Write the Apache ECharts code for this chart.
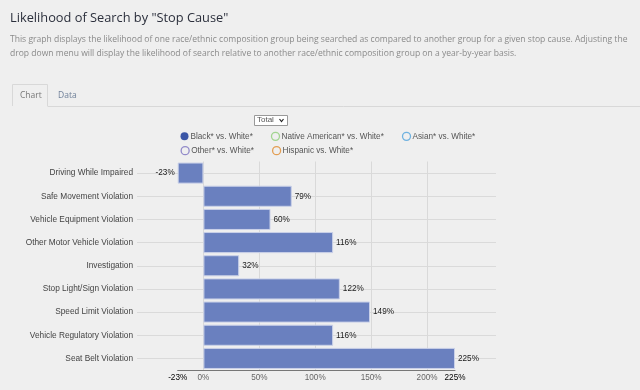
<!DOCTYPE html>
<html><head><meta charset="utf-8">
<script src="https://cdn.jsdelivr.net/npm/echarts@6/dist/echarts.min.js"></script>
<style>html,body{margin:0;padding:0;background:#efefef}#c{width:640px;height:390px}</style>
</head><body><div id="c"></div>
<script>
const categories = ['Driving While Impaired','Safe Movement Violation','Vehicle Equipment Violation','Other Motor Vehicle Violation','Investigation','Stop Light/Sign Violation','Speed Limit Violation','Vehicle Regulatory Violation','Seat Belt Violation'];
const values = [-23, 79, 60, 116, 32, 122, 149, 116, 225];
const legendRow1 = ['Black* vs. White*','Native American* vs. White*','Asian* vs. White*'];
const legendRow2 = ['Other* vs. White*','Hispanic vs. White*'];
const legendColors = {'Black* vs. White*':'#3b56a6','Native American* vs. White*':'#8fce78','Asian* vs. White*':'#4fa3dc','Other* vs. White*':'#7b70bf','Hispanic vs. White*':'#e0892c'};
const axisMin = -23, axisMax = 225;
const titleText = 'Likelihood of Search by "Stop Cause"';
const descLines = ['This graph displays the likelihood of one race/ethnic composition group being searched as compared to another group for a given stop cause. Adjusting the',
'drop down menu will display the likelihood of search relative to another race/ethnic composition group on a year-by-year basis.'];
const tabNames = ['Chart','Data'];
const dropdownText = 'Total';

const chart = echarts.init(document.getElementById('c'), null, {renderer:'canvas'});
const FONT = '"Liberation Sans", Arial, sans-serif';

function legendItem(name){
  const filled = name === 'Black* vs. White*';
  return {name, icon:'circle', itemStyle:{color: filled ? legendColors[name] : 'rgba(0,0,0,0)', borderColor: legendColors[name], borderWidth: filled ? 0 : 1.3}};
}
const allNames = legendRow1.concat(legendRow2);
const series = [{
  name: allNames[0], type:'bar', xAxisIndex:1, yAxisIndex:1,
  barCategoryGap:'9%',
  itemStyle:{color:'#6a80bf', borderColor:'#c9d0e8', borderWidth:1},
  label:{show:true, formatter:'{c}%', fontSize:8.2, fontFamily:FONT, color:'#1a1a1a', distance:3},
  data: values.map(v => ({value:v, label:{position: v < 0 ? 'left' : 'right'}}))
}];
allNames.slice(1).forEach(n => series.push({name:n, type:'scatter', xAxisIndex:1, yAxisIndex:1, data:[], itemStyle:{color:legendColors[n]}}));

const graphic = [
  {type:'text', left:10, top:12, style:{text:titleText, font:'12.8px "Open Sans"', fill:'#2b2f3c'}},
  {type:'text', left:10, top:35, style:{text:descLines[0], font:'8.55px "Open Sans"', fill:'#8a8a8a'}},
  {type:'text', left:10, top:49, style:{text:descLines[1], font:'8.55px "Open Sans"', fill:'#8a8a8a'}},
  {type:'polyline', shape:{points:[[12.5,106],[12.5,84.5],[47.5,84.5],[47.5,106]]}, style:{stroke:'#d8d8d8', fill:null, lineWidth:1}},
  {type:'line', shape:{x1:47.5,y1:106.5,x2:640,y2:106.5}, style:{stroke:'#d8d8d8', lineWidth:1}},
  {type:'text', left:20, top:91, style:{text:tabNames[0], font:'8.5px "Open Sans"', fill:'#777'}},
  {type:'text', left:58, top:91, style:{text:tabNames[1], font:'8.5px "Open Sans"', fill:'#6f8099'}},
  {type:'rect', shape:{x:254.5,y:115.5,width:33,height:10}, style:{fill:'#fff', stroke:'#999', lineWidth:1}},
  {type:'text', left:257, top:116, style:{text:dropdownText, font:'8px ' + FONT, fill:'#555'}},
  {type:'polyline', shape:{points:[[279.5,119],[281.5,121.5],[283.5,119]]}, style:{stroke:'#222', fill:null, lineWidth:1.2}}
];

const option = {
  backgroundColor:'#efefef',
  animation:false,
  graphic,
  legend:[
    {data: legendRow1.map(legendItem), left:180.5, top:131.7, itemWidth:8, itemHeight:8, itemGap:18, selectedMode:false,
     textStyle:{fontSize:8.2, fontFamily:FONT, color:'#555', padding:[0,0,0,-3]}, padding:0},
    {data: legendRow2.map(legendItem), left:180.5, top:146, itemWidth:8, itemHeight:8, itemGap:18, selectedMode:false,
     textStyle:{fontSize:8.2, fontFamily:FONT, color:'#555', padding:[0,0,0,-3]}, padding:0}
  ],
  grid:[
    {left:137, right:144, top:173.1, bottom:31.6},
    {left:177.7, right:185, top:161.5, bottom:20}
  ],
  xAxis:[
    {type:'value', gridIndex:0, min:0, max:1, show:false},
    {type:'value', gridIndex:1, min:axisMin, max:axisMax, position:'bottom',
     axisLine:{show:true, lineStyle:{color:'#777', width:1}},
     axisTick:{show:false},
     splitLine:{show:true, showMinLine:false, showMaxLine:false, lineStyle:{color:'#d9d9d9', width:1}},
     axisLabel:{showMinLabel:true, showMaxLabel:true, fontSize:8.2, fontFamily:FONT, color:'#666', margin:4,
       formatter: v => (v === axisMin || v === axisMax) ? '{b|' + v + '%}' : v + '%',
       rich:{b:{fontSize:8.2, fontFamily:FONT, color:'#000'}}}}
  ],
  yAxis:[
    {type:'category', gridIndex:0, data:categories, inverse:true, boundaryGap:false,
     axisLine:{show:false}, axisTick:{show:false},
     splitLine:{show:true, lineStyle:{color:'#dadada', width:1}},
     axisLabel:{fontSize:8.3, fontFamily:FONT, color:'#444', margin:4}},
    {type:'category', gridIndex:1, data:categories, inverse:true, show:false}
  ],
  series
};
chart.setOption(option);
</script>
</body></html>
